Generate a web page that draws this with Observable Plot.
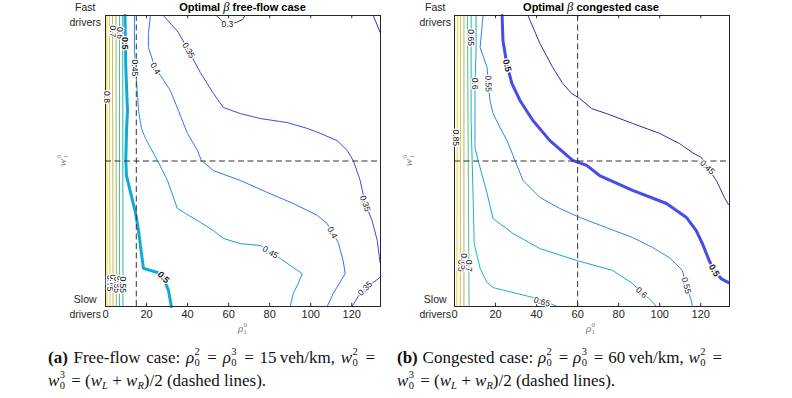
<!DOCTYPE html>
<html><head><meta charset="utf-8">
<script src="https://cdn.jsdelivr.net/npm/d3@7"></script>
<script src="https://cdn.jsdelivr.net/npm/@observablehq/plot@0.6"></script>
<style>
html,body{margin:0;padding:0;background:#fff;}
#root{position:relative;width:792px;height:398px;overflow:hidden;font-family:"Liberation Sans",Arial,sans-serif;color:#262626;}
#root svg{position:absolute;top:0;}
.abs{position:absolute;white-space:nowrap;}
.title{font-weight:bold;font-size:11px;line-height:14px;transform:translateX(-50%);color:#000;}
.beta{font-family:"Liberation Serif",serif;font-style:italic;font-weight:normal;font-size:12.5px;}
.drv{font-size:10.5px;line-height:15px;text-align:center;}
.axl{font-family:"Liberation Serif",serif;font-size:11px;line-height:13px;color:#777;}
.cap{font-family:"Liberation Serif","Times New Roman",serif;font-size:17px;line-height:23px;color:#111;}
.j{text-align:justify;text-align-last:justify;}
.ss{position:relative;display:inline-block;width:0.45em;height:1em;}
.ss>span{position:absolute;left:0.04em;font-size:0.62em;line-height:1;}
.ss>.u{top:8%;}
.ss>.d{top:72%;}
.sb{font-size:0.62em;vertical-align:-0.3em;}
</style></head>
<body><div id="root"></div>
<script>
const xTicks = [0, 20, 40, 60, 80, 100, 120];
const parula = ["#3e26a8","#4746eb","#2d7ef6","#1b9de0","#0cb2c8","#33b8a1","#73bf78","#b5bc5a","#eeba3c","#f7d22e","#f9fb0e"];

// ---------- Panel (a): free-flow, contour paths [rho, w] ----------
const a030top = [[54.0,1.0],[56.0,0.986],[59.4,0.969],[63.7,0.976],[66.7,0.986],[68.1,1.0]];
const a030corner = [[130.4,1.0],[131.9,0.976],[133.8,0.942]];
const a035 = [[28.2,1.0],[35.5,0.942],[40.4,0.880],[46.2,0.804],[52.6,0.732],[57.4,0.684],[65.7,0.663],[75.4,0.646],[88.6,0.632],[98.3,0.612],[104.6,0.595],[112.9,0.570],[117.8,0.536],[120.7,0.502],[124.1,0.433],[126.5,0.354],[129.9,0.296],[132.4,0.227],[133.8,0.151]];
const a035low = [[133.8,0.10],[126.5,0.062],[123.1,0.034],[120.2,0.0]];
const a040 = [[21.9,1.0],[20.9,0.938],[20.9,0.890],[24.3,0.818],[27.7,0.784],[31.6,0.742],[35.5,0.674],[39.9,0.595],[44.8,0.536],[46.7,0.502],[52.6,0.467],[65.7,0.433],[78.8,0.392],[91.5,0.354],[103.2,0.313],[108.0,0.285],[110.5,0.254],[113.4,0.220],[115.8,0.158],[116.8,0.113],[111.0,0.045],[108.0,0.0]];
const a045 = [[14.1,1.0],[14.1,0.880],[15.1,0.777],[16.1,0.674],[17.5,0.612],[19.5,0.577],[21.9,0.546],[25.3,0.502],[30.2,0.433],[35.0,0.337],[38.9,0.320],[46.2,0.289],[52.6,0.261],[57.4,0.234],[65.7,0.216],[75.4,0.210],[80.3,0.186],[85.2,0.165],[91.5,0.134],[95.9,0.113],[93.9,0.079],[91.5,0.045],[90.0,0.0]];
const a050 = [[9.5,1.0],[9.9,0.821],[10.7,0.674],[10.2,0.595],[9.9,0.502],[10.2,0.450],[12.2,0.392],[14.6,0.323],[16.1,0.261],[17.0,0.210],[18.5,0.131],[25.3,0.117],[28.2,0.100],[30.7,0.055],[32.1,0.0]];
const aStripLevels = [0.8, 0.75, 0.7, 0.65, 0.6, 0.55];
const aStripTop    = [0.7, 1.9, 3.4, 5.1, 6.8, 8.4];
const aStripBottom = [0.8, 2.2, 3.7, 5.3, 6.8, 8.5];
const aLabels = [
  ["0.3",59.4,0.969,0],["0.35",40.4,0.880,60],["0.4",24.3,0.818,60],["0.45",14.1,0.82,90],
  ["0.5",9.5,0.905,90],["0.7",3.4,0.945,90],["0.6",6.8,0.94,90],["0.8",0.8,0.72,90],
  ["0.75",2.2,0.08,90],["0.7",3.7,0.09,90],["0.65",5.3,0.075,90],["0.6",6.8,0.085,90],["0.55",8.5,0.075,90],
  ["0.45",80.3,0.186,30],["0.4",110.5,0.254,62],["0.35",126.5,0.354,70],["0.35",126.5,0.062,-45],["0.5",28.2,0.10,45]
];

// ---------- Panel (b): congested ----------
const b045 = [[35.8,1.0],[41.6,0.904],[47.9,0.821],[52.8,0.766],[57.1,0.732],[61.0,0.715],[66.8,0.680],[74.1,0.663],[86.8,0.629],[99.9,0.595],[109.6,0.560],[115.9,0.529],[120.3,0.512],[123.2,0.478],[127.6,0.433],[131.5,0.375],[133.5,0.350]];
const b050 = [[23.2,1.0],[23.6,0.914],[25.6,0.828],[28.0,0.766],[31.9,0.708],[38.2,0.639],[46.5,0.570],[57.6,0.502],[64.4,0.485],[70.7,0.450],[86.8,0.399],[103.3,0.354],[113.0,0.306],[117.8,0.261],[120.8,0.216],[124.1,0.158],[126.5,0.124],[129.9,0.096],[133.5,0.082]];
const b055 = [[13.9,1.0],[12.5,0.890],[15.9,0.821],[16.4,0.766],[17.3,0.708],[18.8,0.663],[22.2,0.615],[25.6,0.570],[29.5,0.502],[33.4,0.433],[41.6,0.375],[51.3,0.337],[61.0,0.306],[74.1,0.271],[86.8,0.237],[96.5,0.203],[104.7,0.168],[111.0,0.124],[112.9,0.072],[115.4,0.021],[115.9,0.0]];
const b060 = [[10.5,1.0],[10.5,0.880],[10.0,0.766],[10.0,0.639],[10.0,0.546],[11.5,0.502],[15.9,0.388],[18.8,0.302],[28.5,0.251],[41.6,0.199],[59.6,0.158],[77.0,0.124],[86.8,0.079],[91.1,0.048],[95.0,0.027],[98.4,0.0]];
const b065 = [[8.1,1.0],[8.1,0.639],[8.6,0.502],[9.1,0.364],[9.6,0.216],[12.5,0.131],[15.9,0.082],[18.8,0.065],[28.5,0.048],[38.2,0.031],[42.6,0.021],[50.3,0.0]];
const bStripLevels = [0.85, 0.8, 0.75, 0.7];
const bStripTop    = [1.5, 3.0, 4.6, 6.3];
const bStripBottom = [1.1, 2.8, 4.6, 7.1];
const bLabels = [
  ["0.5",25.6,0.828,75],["0.55",16.4,0.766,88],["0.6",10.0,0.766,90],["0.65",8.1,0.924,90],["0.85",0.6,0.58,90],
  ["0.45",123.2,0.478,45],["0.5",126.5,0.124,60],["0.55",112.9,0.072,75],["0.6",91.1,0.048,40],["0.65",42.6,0.016,15],
  ["0.8",2.8,0.14,90],["0.75",4.6,0.155,90],["0.7",7.1,0.14,90]
];

function panel(P) {
  const rows = [];
  P.lines.forEach(([level, pts], i) => pts.forEach(([x, y]) => rows.push({id: "c" + i, level, x, y})));
  P.stripLevels.forEach((lv, j) => {
    rows.push({id: "s" + j, level: lv, x: P.stripBottom[j], y: 0});
    rows.push({id: "s" + j, level: lv, x: P.stripTop[j], y: 1});
  });
  const labels = P.labels.map(([text, x, y, angle]) => ({text, x, y, angle}));
  const dash = {stroke: "#333", strokeWidth: 1, strokeDasharray: "6,3.5"};
  return Plot.plot({
    width: 396, height: 335, marginTop: 15, marginBottom: 29, marginLeft: P.ml, marginRight: P.mr,
    x: {domain: [0, 134], ticks: xTicks, tickSize: 0, tickPadding: 4, tickFormat: d => String(d), label: null},
    y: {domain: [0, 1], axis: null},
    color: {type: "linear", domain: P.colorDomain, interpolate: d3.piecewise(d3.interpolateRgb, parula)},
    style: {fontFamily: "'Liberation Sans', Arial, sans-serif", fontSize: "11px", color: "#262626", background: "transparent", overflow: "visible"},
    marks: [
      Plot.line(rows.filter(d => d.level !== 0.5), {x: "x", y: "y", z: "id", stroke: "level", strokeWidth: 1}),
      Plot.line(rows.filter(d => d.level === 0.5), {x: "x", y: "y", z: "id", stroke: "level", strokeWidth: 3}),
      Plot.ruleX([P.dashX], dash),
      Plot.ruleY([0.5], dash),
      Plot.ruleX(xTicks.slice(1), {x: d => d, y1: 0, y2: 0.011, stroke: "#262626"}),
      Plot.ruleX(xTicks.slice(1), {x: d => d, y1: 0.989, y2: 1, stroke: "#262626"}),
      Plot.frame({stroke: "#262626"}),
      Plot.text(labels.filter(d => d.text !== "0.5"), {x: "x", y: "y", text: "text", rotate: "angle", fontSize: 8.5, fill: "#111", stroke: "white", strokeWidth: 2.5}),
      Plot.text(labels.filter(d => d.text === "0.5"), {x: "x", y: "y", text: "text", rotate: "angle", fontSize: 9, fontWeight: "bold", fill: "#111", stroke: "white", strokeWidth: 2.5})
    ]
  });
}

const root = document.getElementById("root");
const svgA = panel({
  ml: 105, mr: 16, dashX: 15, colorDomain: [0.3, 0.85],
  lines: [[0.3, a030top], [0.3, a030corner], [0.35, a035], [0.35, a035low], [0.4, a040], [0.45, a045], [0.5, a050]],
  stripLevels: aStripLevels, stripTop: aStripTop, stripBottom: aStripBottom, labels: aLabels
});
svgA.style.left = "0px";
root.appendChild(svgA);
const svgB = panel({
  ml: 58, mr: 63, dashX: 60, colorDomain: [0.45, 0.9],
  lines: [[0.45, b045], [0.5, b050], [0.55, b055], [0.6, b060], [0.65, b065]],
  stripLevels: bStripLevels, stripTop: bStripTop, stripBottom: bStripBottom, labels: bLabels
});
svgB.style.left = "396px";
root.appendChild(svgB);

const ss = (sup, sub) => `<span class="ss"><span class="u">${sup}</span><span class="d">${sub}</span></span>`;
const overlay = `
<div class="abs title" style="left:242.5px;top:0px">Optimal <span class="beta">β</span> free-flow case</div>
<div class="abs title" style="left:591px;top:0px">Optimal <span class="beta">β</span> congested case</div>
<div class="abs drv" style="right:691px;top:0px">Fast<br>drivers</div>
<div class="abs drv" style="right:691px;top:292px">Slow<br>drivers</div>
<div class="abs drv" style="right:341px;top:0px">Fast<br>drivers</div>
<div class="abs drv" style="right:341px;top:292px">Slow<br>drivers</div>
<div class="abs axl" style="left:243px;top:328px;transform:translate(-50%,-50%)"><i>ρ</i>${ss(0,1)}</div>
<div class="abs axl" style="left:591px;top:328px;transform:translate(-50%,-50%)"><i>ρ</i>${ss(0,1)}</div>
<div class="abs axl" style="left:62px;top:160px;transform:translate(-50%,-50%) rotate(-90deg)"><i>w</i>${ss(0,1)}</div>
<div class="abs axl" style="left:408px;top:160px;transform:translate(-50%,-50%) rotate(-90deg)"><i>w</i>${ss(0,1)}</div>
<div class="abs cap" style="left:48px;top:346px;width:327px">
  <div class="j"><b>(a)</b> Free-flow case: <i>ρ</i>${ss(2,0)} = <i>ρ</i>${ss(3,0)} = 15&#8201;veh/km, <i>w</i>${ss(2,0)} =</div>
  <div><i>w</i>${ss(3,0)} = (<i>w</i><span class="sb"><i>L</i></span> + <i>w</i><span class="sb"><i>R</i></span>)/2 (dashed lines).</div>
</div>
<div class="abs cap" style="left:397px;top:346px;width:325px">
  <div class="j"><b>(b)</b> Congested case: <i>ρ</i>${ss(2,0)} = <i>ρ</i>${ss(3,0)} = 60&#8201;veh/km, <i>w</i>${ss(2,0)} =</div>
  <div><i>w</i>${ss(3,0)} = (<i>w</i><span class="sb"><i>L</i></span> + <i>w</i><span class="sb"><i>R</i></span>)/2 (dashed lines).</div>
</div>`;
root.insertAdjacentHTML("beforeend", overlay);
</script>
</body></html>
